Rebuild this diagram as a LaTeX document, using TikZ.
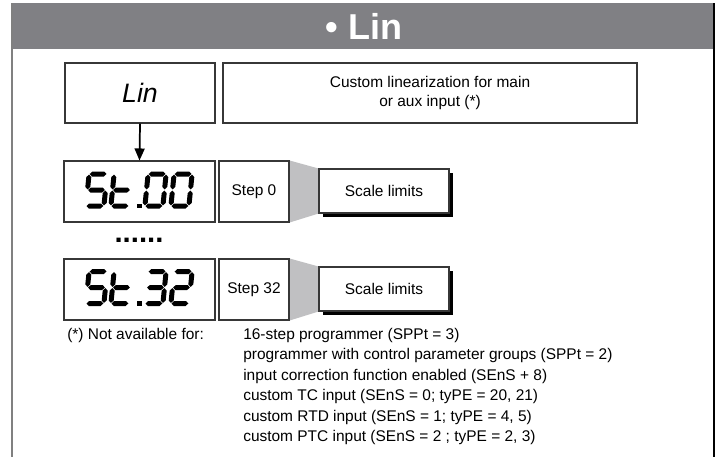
\documentclass[tikz,border=0pt]{standalone}
\usepackage{fontspec}
\setmainfont{Liberation Sans}
\usetikzlibrary{arrows.meta,shadows,backgrounds}

\definecolor{bandgray}{RGB}{128,128,132}
\definecolor{wedgegray}{RGB}{192,192,194}
\definecolor{edgegray}{RGB}{55,55,55}

% seven-segment helpers (units: pixels of the drawing grid)
\def\segGap{0.6}
\def\segHalf{2.5}
\newcommand{\sevenH}[3]{\fill (#1+\segGap,#3) -- (#1+\segGap+\segHalf,#3-\segHalf) -- (#2-\segGap-\segHalf,#3-\segHalf) -- (#2-\segGap,#3) -- (#2-\segGap-\segHalf,#3+\segHalf) -- (#1+\segGap+\segHalf,#3+\segHalf) -- cycle;}
\newcommand{\sevenV}[3]{\fill (#1,#2+\segGap) -- (#1+\segHalf,#2+\segGap+\segHalf) -- (#1+\segHalf,#3-\segGap-\segHalf) -- (#1,#3-\segGap) -- (#1-\segHalf,#3-\segGap-\segHalf) -- (#1-\segHalf,#2+\segGap+\segHalf) -- cycle;}
\newcommand{\segA}{\sevenH{-9}{9}{-16}}
\newcommand{\segG}{\sevenH{-9}{9}{0}}
\newcommand{\segD}{\sevenH{-9}{9}{16}}
\newcommand{\segF}{\sevenV{-9}{-16}{0}}
\newcommand{\segB}{\sevenV{9}{-16}{0}}
\newcommand{\segE}{\sevenV{-9}{0}{16}}
\newcommand{\segC}{\sevenV{9}{0}{16}}
\newcommand{\glyphFive}{\segA\segF\segG\segC\segD}
\newcommand{\glyphT}{\segF\segE\segG\segD}
\newcommand{\glyphZero}{\segA\segB\segC\segD\segE\segF}
\newcommand{\glyphThree}{\segA\segB\segG\segC\segD}
\newcommand{\glyphTwo}{\segA\segB\segG\segE\segD}
% one glyph placed relative to a display node
\newcommand{\lcdglyph}[4]{\begin{scope}[shift={(#1.center)},shift={(#2,#3)},xslant=0.1]#4\end{scope}}
\newcommand{\lcdpoint}[3]{\begin{scope}[shift={(#1.center)}]\fill (#2-2.3,#3-2.3) rectangle (#2+2.3,#3+2.3);\end{scope}}

\newcommand{\bodyfont}{\fontsize{11.6pt}{14.3pt}\selectfont}

\begin{document}
\begin{tikzpicture}[x=0.75pt,y=-0.75pt,
  box/.style={draw=edgegray, line width=0.8pt, fill=white, inner sep=0pt, font=\bodyfont},
  lcd/.style={box, minimum width=113.25pt, minimum height=45.75pt},
  stepbox/.style={box, minimum width=52.5pt, minimum height=45.75pt},
  scalebox/.style={box, minimum width=97.5pt, minimum height=33pt,
    drop shadow={fill=black, opacity=1, shadow xshift=3pt, shadow yshift=-3pt}},
  note/.style={anchor=base west, inner sep=0pt, font=\bodyfont}]

\useasboundingbox (0,0) rectangle (720,457);

% title band and frame
\fill[bandgray] (12,3) rectangle (714,49);
\draw[gray, line width=0.9pt] (12,3) -- (12,457);
\draw[black, line width=1.5pt] (714,3) -- (714,457);
\node[text=white, font=\bfseries\fontsize{27pt}{27pt}\selectfont] (title) at (364,26) {• Lin};

% parameter row
\node[box, minimum width=112.5pt, minimum height=45pt, font=\itshape\fontsize{20pt}{20pt}\selectfont] (Lin) at (140,93) {Lin};
\node[box, minimum width=310.5pt, minimum height=45pt, align=center] (Custom) at (430,93) {Custom linearization for main\\or aux input (*)};

% step 0
\node[lcd] (St00) at (139.5,191.5) {};
\node[stepbox] (Step0) at (254,191.5) {Step 0};
\node[scalebox] (Scale0) at (384,191) {Scale limits};

% step 32
\node[lcd] (St32) at (139.5,289.5) {};
\node[stepbox] (Step32) at (254,289.5) {Step 32};
\node[scalebox] (Scale32) at (384,289) {Scale limits};

\node[anchor=base, inner sep=0pt, font=\bfseries\fontsize{22pt}{22pt}\selectfont] (dots) at (139,242.5) {......};

% grey wedges from the step boxes to the scale boxes
\begin{scope}[on background layer]
\fill[wedgegray] (Step0.north east) -- (Scale0.north west) -- (Scale0.south west) -- (Step0.south east) -- cycle;
\fill[wedgegray] (Step32.north east) -- (Scale32.north west) -- (Scale32.south west) -- (Step32.south east) -- cycle;
\end{scope}

\draw[-{Triangle[length=9pt,width=7.5pt]}, line width=1.3pt] (Lin.south) -- (St00.north);

% display readings
\lcdglyph{St00}{-43}{-1.5}{\glyphFive}
\lcdglyph{St00}{-18}{-1.5}{\glyphT}
\lcdpoint{St00}{0}{14.5}
\lcdglyph{St00}{16}{-1.5}{\glyphZero}
\lcdglyph{St00}{42}{-1.5}{\glyphZero}

\lcdglyph{St32}{-43}{-2}{\glyphFive}
\lcdglyph{St32}{-18}{-2}{\glyphT}
\lcdpoint{St32}{0}{14}
\lcdglyph{St32}{16}{-2}{\glyphThree}
\lcdglyph{St32}{42}{-2}{\glyphTwo}

% footnote
\node[note] (na) at (67,339.5) {(*) Not available for:};
\node[note] (n1) at (243,339.5) {16-step programmer (SPPt = 3)};
\node[note] (n2) at (243,359.9) {programmer with control parameter groups (SPPt = 2)};
\node[note] (n3) at (243,380.3) {input correction function enabled (SEnS + 8)};
\node[note] (n4) at (243,400.7) {custom TC input (SEnS = 0; tyPE = 20, 21)};
\node[note] (n5) at (243,421.1) {custom RTD input (SEnS = 1; tyPE = 4, 5)};
\node[note] (n6) at (243,441.5) {custom PTC input (SEnS = 2 ; tyPE = 2, 3)};
\end{tikzpicture}
\end{document}
